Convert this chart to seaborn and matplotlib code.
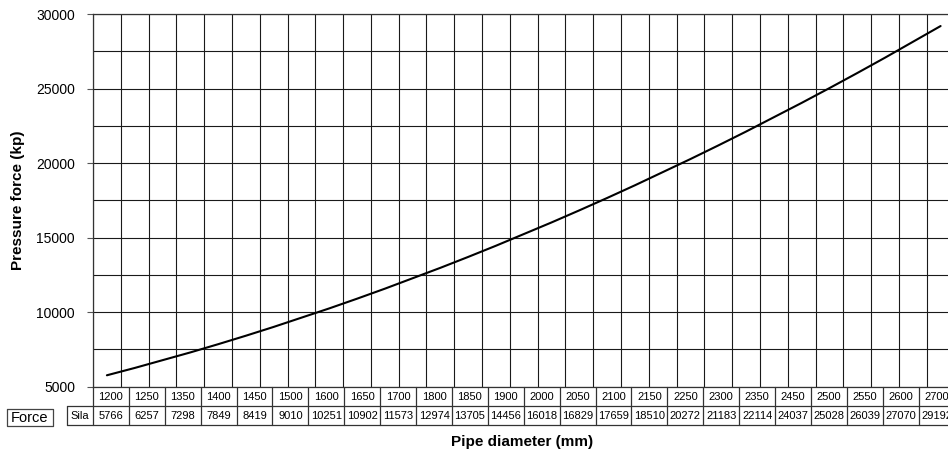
import matplotlib
matplotlib.use("Agg")
import matplotlib.pyplot as plt
from matplotlib.ticker import MultipleLocator
import seaborn as sns
import pandas as pd

# ---- data ----
diameters = [1200, 1250, 1350, 1400, 1450, 1500, 1600, 1650, 1700, 1800, 1850, 1900,
             2000, 2050, 2100, 2150, 2250, 2300, 2350, 2450, 2500, 2550, 2600, 2700]
forces = [5766, 6257, 7298, 7849, 8419, 9010, 10251, 10902, 11573, 12974, 13705, 14456,
          16018, 16829, 17659, 18510, 20272, 21183, 22114, 24037, 25028, 26039, 27070, 29192]
y_ticks = [5000, 10000, 15000, 20000, 25000, 30000]
row_header = "Sila"
legend_label = "Force"
x_label = "Pipe diameter (mm)"
y_label = "Pressure force (kp)"

sns.set_style("white")
plt.rcParams["font.family"] = ["Liberation Sans", "DejaVu Sans"]
plt.rcParams["text.color"] = "black"
plt.rcParams["axes.labelcolor"] = "black"
plt.rcParams["ytick.labelcolor"] = "black"

W, H = 948, 454
fig = plt.figure(figsize=(W / 100, H / 100), dpi=100)

# plot area in pixels
left_px, right_px, top_px, bot_px = 93, 955, 14, 386.7
ax = fig.add_axes([left_px / W, 1 - bot_px / H, (right_px - left_px) / W, (bot_px - top_px) / H])

df = pd.DataFrame({"diameter": diameters, "force": forces})
sns.lineplot(data=df, x="diameter", y="force", ax=ax, color="black", linewidth=1.5)

px_per_mm = 0.5558
x0 = 1175
ax.set_xlim(x0, x0 + (right_px - left_px) / px_per_mm)
ax.set_ylim(5000, 30000)
ax.xaxis.set_major_locator(MultipleLocator(50, offset=25))
ax.set_yticks(y_ticks)
ax.set_yticklabels([str(v) for v in y_ticks], fontsize=10, color="black")
ax.yaxis.set_minor_locator(MultipleLocator(2500))
ax.grid(True, which="major", axis="x", color="#1a1a1a", linewidth=0.8)
ax.grid(True, which="both", axis="y", color="#1a1a1a", linewidth=0.8)
ax.tick_params(axis="x", which="both", bottom=False, labelbottom=False)
ax.tick_params(axis="y", which="major", left=True, length=4, width=0.8, color="#555555", pad=9)
ax.tick_params(axis="y", which="minor", left=False)
ax.set_xlabel("")
ax.set_ylabel("")
for s in ["top", "bottom", "left", "right"]:
    ax.spines[s].set_color("#333333")
    ax.spines[s].set_linewidth(0.9)

# ---- data table and labels on a pixel overlay ----
ov = fig.add_axes([0, 0, 1, 1], facecolor="none")
ov.set_xlim(0, W)
ov.set_ylim(H, 0)
ov.axis("off")

col_w = 35.9
r0, r1, r2 = 386.7, 406.0, 425.0
lc = "#333333"
lw = 0.9
n = len(diameters)
ov.plot([left_px, left_px + n * col_w], [r1, r1], color=lc, lw=lw)
ov.plot([66.7, left_px + n * col_w], [r2, r2], color=lc, lw=lw)
ov.plot([66.7, left_px], [r1, r1], color=lc, lw=lw)
ov.plot([66.7, 66.7], [r1, r2], color=lc, lw=lw)
for i in range(n + 1):
    xx = left_px + i * col_w
    ov.plot([xx, xx], [r0, r2], color=lc, lw=lw)
for i, (d, f) in enumerate(zip(diameters, forces)):
    cx = left_px + (i + 0.5) * col_w
    ov.text(cx, (r0 + r1) / 2 + 0.5, str(d), ha="center", va="center", fontsize=8, color="black")
    ov.text(cx, (r1 + r2) / 2 + 0.5, str(f), ha="center", va="center", fontsize=8, color="black")
ov.text((66.7 + left_px) / 2, (r1 + r2) / 2 + 0.5, row_header, ha="center", va="center",
        fontsize=8, color="black")

# legend key box
ov.plot([7, 53, 53, 7, 7], [409, 409, 426, 426, 409], color="#444444", lw=0.9)
ov.text(30, 418, legend_label, ha="center", va="center", fontsize=10.5, color="black")

ov.text(522, 442, x_label, ha="center", va="center", fontsize=11, fontweight="bold", color="black")
ov.text(18, 200, y_label, ha="center", va="center", fontsize=11, fontweight="bold",
        rotation=90, color="black")

fig.savefig("out.png", dpi=100)
